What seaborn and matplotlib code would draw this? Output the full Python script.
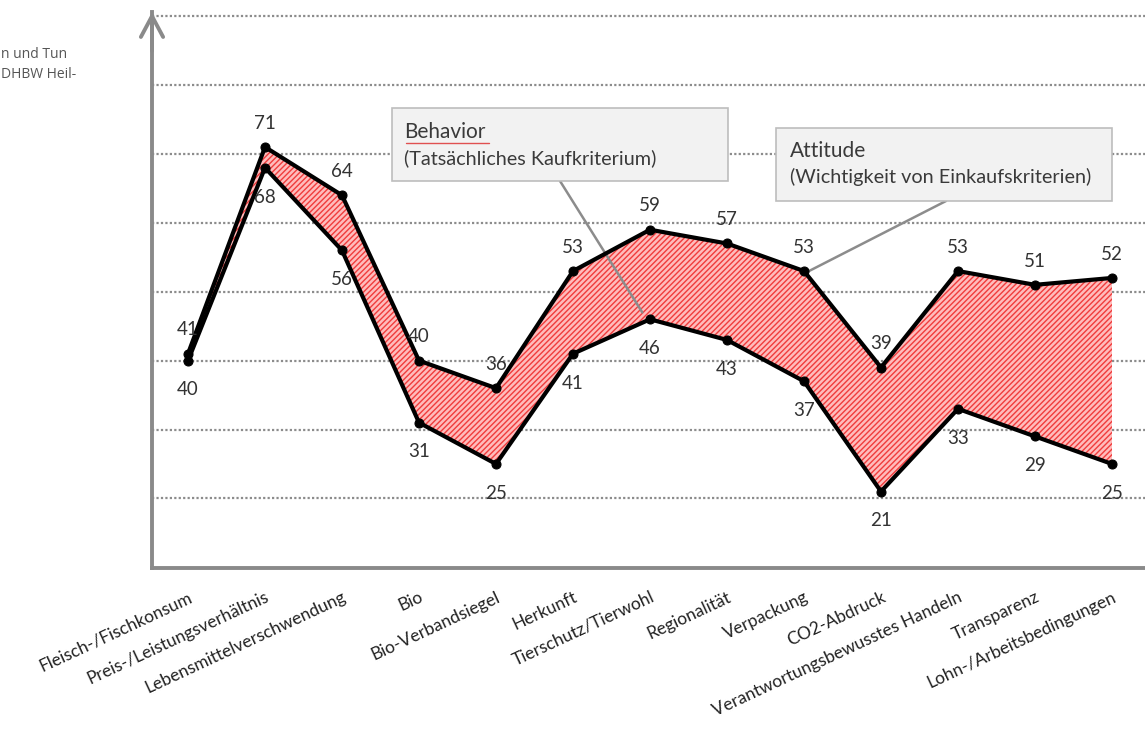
import matplotlib
matplotlib.use("Agg")
import matplotlib.pyplot as plt
import seaborn as sns
import pandas as pd
from matplotlib.lines import Line2D

categories = ["Fleisch-/Fischkonsum", "Preis-/Leistungsverhältnis", "Lebensmittelverschwendung",
              "Bio", "Bio-Verbandsiegel", "Herkunft", "Tierschutz/Tierwohl", "Regionalität",
              "Verpackung", "CO2-Abdruck", "Verantwortungsbewusstes Handeln", "Transparenz",
              "Lohn-/Arbeitsbedingungen"]
attitude = [41, 71, 64, 40, 36, 53, 59, 57, 53, 39, 53, 51, 52]
behavior = [40, 68, 56, 31, 25, 41, 46, 43, 37, 21, 33, 29, 25]
gridvals = [20, 30, 40, 50, 60, 70, 80, 90]

sns.set_style("white")
plt.rcParams['font.family'] = ['Lato', 'DejaVu Sans']

W, H = 1145, 730
fig = plt.figure(figsize=(W / 100, H / 100), dpi=100)
ax = fig.add_axes([152 / W, 162 / H, (W - 152) / W, 556 / H])

x = list(range(len(categories)))
df = pd.DataFrame({"x": x * 2, "val": attitude + behavior,
                   "series": ["Attitude"] * len(x) + ["Behavior"] * len(x)})

ax.fill_between(x, attitude, behavior, facecolor="#ffbcbc", edgecolor="#f03c3c",
                hatch="//////", linewidth=0, zorder=2)
sns.lineplot(data=df, x="x", y="val", units="series", estimator=None, color="black",
             lw=3, marker="o", markersize=6.5, markeredgecolor="black", ax=ax, zorder=4,
             legend=False)

ax.set_xlim(-36 / 77, (W - 188) / 77)
ax.set_ylim(9.9, 90.6)
ax.set_yticks(gridvals)
ax.set_yticklabels([])
ax.yaxis.grid(True, linestyle=(0, (1, 1)), color="#8c8c8c", lw=1.6, zorder=1)
ax.xaxis.grid(False)
ax.tick_params(axis="y", length=0)
ax.set_xticks(x)
ax.set_xticklabels(categories, rotation=25, ha="right", rotation_mode="anchor",
                   fontsize=12.5, color="#222222")
ax.tick_params(axis="x", direction="inout", length=8, width=1.8, color="#333333", pad=11)
ax.set_xlabel("")
ax.set_ylabel("")

for s in ["top", "right"]:
    ax.spines[s].set_visible(False)
for s in ["left", "bottom"]:
    ax.spines[s].set_color("#8a8a8a")
    ax.spines[s].set_linewidth(2.8)

# arrow at top of y axis
ax.annotate("", xy=(0, 1.0), xytext=(0, 0.93), xycoords="axes fraction",
            arrowprops=dict(arrowstyle="->,head_width=0.8,head_length=1.5",
                            color="#8a8a8a", lw=2.8, shrinkA=0, shrinkB=0),
            annotation_clip=False)

# data labels
for i, v in enumerate(attitude):
    ax.annotate(str(v), (i, v), xytext=(0, 11), textcoords="offset points",
                ha="center", va="bottom", fontsize=13.5, color="#333333", zorder=5)
for i, v in enumerate(behavior):
    ax.annotate(str(v), (i, v), xytext=(0, -15), textcoords="offset points",
                ha="center", va="top", fontsize=13.5, color="#333333", zorder=5)

def fx(px):
    return px / W

def fy(py):
    return 1 - py / H

# callout boxes
fig.patches.append(plt.Rectangle((fx(392), fy(181)), (728 - 392) / W, 73 / H,
                                 transform=fig.transFigure, facecolor="#f2f2f2",
                                 edgecolor="#bdbdbd", lw=1.2, zorder=6))
fig.patches.append(plt.Rectangle((fx(776), fy(201)), (1112 - 776) / W, 73 / H,
                                 transform=fig.transFigure, facecolor="#f2f2f2",
                                 edgecolor="#bdbdbd", lw=1.2, zorder=6))
fig.text(fx(404), fy(132), "Behavior", fontsize=15, color="#3a3a3a", va="center", zorder=7)
fig.lines.append(Line2D([fx(406), fx(489)], [fy(143), fy(143)], transform=fig.transFigure,
                        color="#e05050", lw=1.0, zorder=7))
fig.text(fx(404), fy(158), "(Tatsächliches Kaufkriterium)", fontsize=14.3, color="#3a3a3a",
         va="center", zorder=7)
fig.text(fx(790), fy(151), "Attitude", fontsize=15, color="#3a3a3a", va="center", zorder=7)
fig.text(fx(790), fy(177), "(Wichtigkeit von Einkaufskriterien)", fontsize=14.3,
         color="#3a3a3a", va="center", zorder=7)

# connector lines
ax.annotate("", xy=(6 - 0.1, 46 + 1.0), xytext=(fx(560), fy(181)), xycoords="data",
            textcoords="figure fraction",
            arrowprops=dict(arrowstyle="-", color="#8c8c8c", lw=1.8, shrinkA=0, shrinkB=0),
            annotation_clip=False, zorder=3)
ax.annotate("", xy=(8 + 0.03, 53 - 0.2), xytext=(fx(946), fy(201)), xycoords="data",
            textcoords="figure fraction",
            arrowprops=dict(arrowstyle="-", color="#8c8c8c", lw=1.8, shrinkA=0, shrinkB=0),
            annotation_clip=False, zorder=3)

# source text fragment at top left
fig.text(fx(1), fy(55), "n und Tun", fontsize=10, color="#555555", va="center",
         family=["Open Sans", "DejaVu Sans"])
fig.text(fx(1), fy(74), "DHBW Heil-", fontsize=10, color="#555555", va="center",
         family=["Open Sans", "DejaVu Sans"])

fig.savefig("out.png", dpi=100)
